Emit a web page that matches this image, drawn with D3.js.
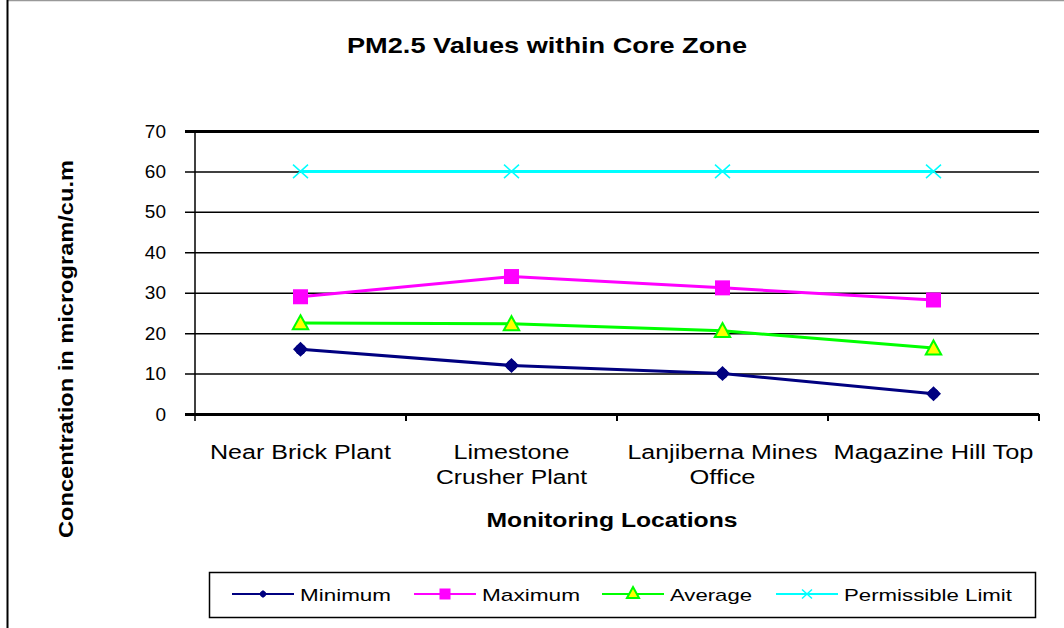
<!DOCTYPE html>
<html><head><meta charset="utf-8">
<script src="https://cdn.jsdelivr.net/npm/d3@7"></script>
<style>
html,body{margin:0;padding:0;background:#fff;}
text{font-family:"Liberation Sans",Arial,sans-serif;}
</style></head>
<body>
<svg id="chart" width="1064" height="628"></svg>
<script>
const categories = ["Near Brick Plant", "Limestone Crusher Plant", "Lanjiberna Mines Office", "Magazine Hill Top"];
const categoryLines = [["Near Brick Plant"], ["Limestone", "Crusher Plant"], ["Lanjiberna Mines", "Office"], ["Magazine Hill Top"]];
const minimumValues = [16, 12, 10, 5];
const maximumValues = [29, 34, 31.2, 28.2];
const averageValues = [22.5, 22.3, 20.6, 16.3];
const limitValues = [60, 60, 60, 60];
const seriesNames = ["Minimum", "Maximum", "Average", "Permissible  Limit"];
const yTicks = [0, 10, 20, 30, 40, 50, 60, 70];

const svg = d3.select("#chart");
const L = 195, R = 1039, T = 131, B = 414;

const x = d3.scaleBand().domain(categories).range([L, R]).paddingInner(0).paddingOuter(0);
const y = d3.scaleLinear().domain([0, 70]).range([B, T]);
const cx = c => x(c) + x.bandwidth() / 2;

// outer frame
svg.append("line").attr("x1", 7).attr("x2", 1064).attr("y1", 0.5).attr("y2", 0.5).attr("stroke", "#999").attr("stroke-width", 1.5);
svg.append("line").attr("x1", 7.5).attr("x2", 7.5).attr("y1", 0).attr("y2", 628).attr("stroke", "#000").attr("stroke-width", 2);

// title
svg.append("text").attr("x", 547).attr("y", 53).attr("text-anchor", "middle")
  .attr("font-size", 22).attr("font-weight", "bold").attr("textLength", 400).attr("lengthAdjust", "spacingAndGlyphs")
  .text("PM2.5 Values within Core Zone");

// y axis with gridlines
const yAxis = d3.axisLeft(y).tickValues(yTicks).tickSize(-(R - 185)).tickPadding(19).tickFormat(d3.format("d"));
const gy = svg.append("g").attr("transform", "translate(185,0)").call(yAxis);
gy.select(".domain").remove();
gy.selectAll(".tick line").attr("stroke", "#000").attr("stroke-width", d => (d === 0 || d === 70) ? 3 : 1.5);
gy.selectAll(".tick text").attr("font-size", 19).attr("fill", "#000").attr("font-family", "Liberation Sans, Arial, sans-serif");

// vertical axis line
svg.append("line").attr("x1", L).attr("x2", L).attr("y1", T).attr("y2", B + 7).attr("stroke", "#000").attr("stroke-width", 1.5);

// category boundary ticks
const bounds = categories.map(c => x(c) + x.bandwidth());
svg.selectAll(".ctick").data(bounds).enter().append("line")
  .attr("x1", d => d).attr("x2", d => d).attr("y1", B).attr("y2", B + 7)
  .attr("stroke", "#000").attr("stroke-width", 2);

// category labels
const labelWidths = [[181], [116, 151], [190, 66], [200]];
categoryLines.forEach((lines, i) => {
  lines.forEach((ln, j) => {
    svg.append("text").attr("x", cx(categories[i])).attr("y", 459 + j * 25)
      .attr("text-anchor", "middle").attr("font-size", 20)
      .attr("textLength", labelWidths[i][j]).attr("lengthAdjust", "spacingAndGlyphs")
      .text(ln);
  });
});

// axis titles
svg.append("text").attr("x", 612).attr("y", 527).attr("text-anchor", "middle")
  .attr("font-size", 20).attr("font-weight", "bold").attr("textLength", 251).attr("lengthAdjust", "spacingAndGlyphs")
  .text("Monitoring Locations");
svg.append("text").attr("transform", "translate(73,349) rotate(-90)").attr("text-anchor", "middle")
  .attr("font-size", 20).attr("font-weight", "bold").attr("textLength", 378).attr("lengthAdjust", "spacingAndGlyphs")
  .text("Concentration in microgram/cu.m");

// series
const series = [
  {name: seriesNames[0], values: minimumValues, color: "#000080", marker: "diamond"},
  {name: seriesNames[1], values: maximumValues, color: "#FF00FF", marker: "square"},
  {name: seriesNames[2], values: averageValues, color: "#00FF00", marker: "triangle"},
  {name: seriesNames[3], values: limitValues, color: "#00FFFF", marker: "x"}
];

function drawMarker(g, type, color, px, py, s) {
  if (type === "diamond") {
    const h = s / 2;
    g.append("path").attr("d", `M${px},${py - h} L${px + h},${py} L${px},${py + h} L${px - h},${py} Z`).attr("fill", color);
    g.append("circle").attr("cx", px).attr("cy", py).attr("r", s * 0.36).attr("fill", color);
  } else if (type === "square") {
    g.append("rect").attr("x", px - s / 2).attr("y", py - s / 2).attr("width", s).attr("height", s).attr("fill", color);
  } else if (type === "triangle") {
    g.append("path").attr("d", `M${px},${py - s * 0.55} L${px + s * 0.55},${py + s * 0.45} L${px - s * 0.55},${py + s * 0.45} Z`)
      .attr("fill", "#FFFF00").attr("stroke", color).attr("stroke-width", 2);
  } else {
    const h = s * 0.5;
    g.append("path").attr("d", `M${px - h},${py - h * 0.9} L${px + h},${py + h * 0.9} M${px - h},${py + h * 0.9} L${px + h},${py - h * 0.9}`)
      .attr("stroke", color).attr("stroke-width", 1.5).attr("fill", "none");
  }
}

const line = d3.line().x(d => cx(d.c)).y(d => y(d.v));
series.slice().reverse().forEach(s => {
  const pts = categories.map((c, i) => ({c, v: s.values[i]}));
  const g = svg.append("g");
  g.append("path").datum(pts).attr("d", line).attr("fill", "none").attr("stroke", s.color).attr("stroke-width", 3);
  pts.forEach(p => drawMarker(g, s.marker, s.color, cx(p.c), y(p.v), s.marker === "triangle" ? 14 : 15));
});

// legend
svg.append("rect").attr("x", 209.5).attr("y", 572.5).attr("width", 826).attr("height", 45)
  .attr("fill", "none").attr("stroke", "#000").attr("stroke-width", 1.5);
const legendLineX = [232, 414, 602, 776];
const legendTextW = [91, 98, 82, 168];
series.forEach((s, i) => {
  const g = svg.append("g");
  const x0 = legendLineX[i], ly = 594;
  g.append("line").attr("x1", x0).attr("x2", x0 + 62).attr("y1", ly).attr("y2", ly).attr("stroke", s.color).attr("stroke-width", 2);
  const mx = x0 + 31;
  if (s.marker === "diamond") drawMarker(g, "diamond", s.color, mx, ly, 8);
  else if (s.marker === "square") drawMarker(g, "square", s.color, mx, ly, 11);
  else if (s.marker === "triangle") drawMarker(g, "triangle", s.color, mx, ly - 1, 11);
  else drawMarker(g, "x", s.color, mx, ly, 10);
  g.append("text").attr("x", x0 + 68).attr("y", ly + 6.5).attr("font-size", 17)
    .attr("textLength", legendTextW[i]).attr("lengthAdjust", "spacingAndGlyphs").text(s.name);
});
</script>
</body></html>
